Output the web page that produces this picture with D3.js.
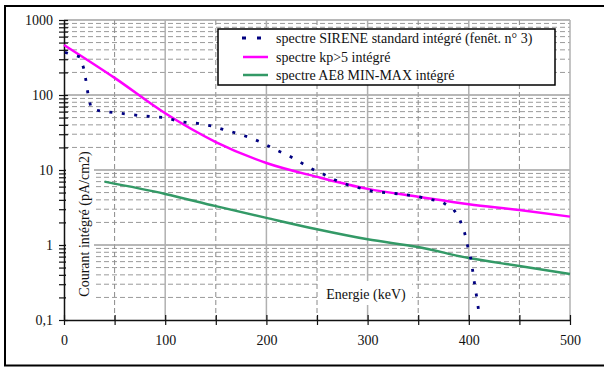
<!DOCTYPE html>
<html>
<head>
<meta charset="utf-8">
<script src="https://cdn.jsdelivr.net/npm/d3@7"></script>
<style>
  body { margin: 0; background: #fff; }
  svg { display: block; }
  text { font-family: "Liberation Serif", "Times New Roman", serif; fill: #111; }
</style>
</head>
<body>
<div id="chart"></div>
<script>
// Series: spectre kp>5 intégré
const kpEnergy = [0, 50, 100, 150, 200, 250, 300, 350, 400, 450, 500];
const kpValues = [464, 169, 57, 23.6, 12.4, 8.1, 5.6, 4.4, 3.5, 2.93, 2.39];

// Series: spectre AE8 MIN-MAX intégré
const ae8Energy = [40, 100, 150, 200, 250, 300, 350, 400, 450, 500];
const ae8Values = [7.0, 4.8, 3.3, 2.3, 1.62, 1.19, 0.94, 0.67, 0.525, 0.41];

// Series: spectre SIRENE standard intégré (dotted)
const sireneEnergy = [1, 16, 20, 22, 24, 27, 39, 52, 65, 78, 91, 100, 115, 132, 146, 157, 171, 184, 197,
  208, 221, 231, 244, 256, 268, 281, 306, 332, 347, 373, 385, 391, 396, 399, 402, 404, 406, 408, 410];
const sireneValues = [370, 321, 215, 146, 97, 65, 60, 58, 55, 52.5, 51, 50, 44, 41.8, 38.6, 34.9, 30.8, 27, 22.7,
  18.9, 15.8, 13.3, 10.5, 8.85, 7.36, 6.3, 5.14, 4.79, 4.5, 3.78, 2.99, 2.2, 1.43, 0.95, 0.66, 0.44, 0.284, 0.195, 0.125];

// Axis ticks
const xTicks = [0, 100, 200, 300, 400, 500];
const xMinorTicks = [50, 150, 250, 350, 450];
const yDecades = [0.1, 1, 10, 100, 1000];
const yTickLabels = ['0,1', '1', '10', '100', '1000'];

const seriesNames = [
  'spectre SIRENE standard intégré (fenêt. n° 3)',
  'spectre kp>5 intégré',
  'spectre AE8 MIN-MAX intégré'
];

const width = 604, height = 367;
const plotLeft = 64, plotRight = 570, plotTop = 20, plotBottom = 320;
const serif = '"Liberation Serif", "Times New Roman", serif';

const svg = d3.select('#chart').append('svg')
  .attr('width', width)
  .attr('height', height);

// Outer frame
svg.append('rect')
  .attr('x', 5).attr('y', 6)
  .attr('width', 640).attr('height', 359.5)
  .attr('fill', 'none')
  .attr('stroke', '#000')
  .attr('stroke-width', 2);

const x = d3.scaleLinear().domain([0, 500]).range([plotLeft, plotRight]);
const y = d3.scaleLog().domain([0.1, 1000]).range([plotBottom, plotTop]);

// all minor values 2..9 per decade
let yMinor = [];
yDecades.slice(0, -1).forEach(d => {
  for (let k = 2; k <= 9; k++) yMinor.push(d * k);
});

// Grid
const grid = svg.append('g');
grid.selectAll('.hmin').data(yMinor).enter().append('line')
  .attr('x1', plotLeft).attr('x2', plotRight)
  .attr('y1', d => y(d)).attr('y2', d => y(d))
  .attr('stroke', '#9a9a9a').attr('stroke-width', 1)
  .attr('stroke-dasharray', '5,3');
grid.selectAll('.vmin').data(xMinorTicks).enter().append('line')
  .attr('x1', d => x(d)).attr('x2', d => x(d))
  .attr('y1', plotTop).attr('y2', plotBottom)
  .attr('stroke', '#8a8a8a').attr('stroke-width', 1)
  .attr('stroke-dasharray', '5,3');
grid.selectAll('.hmaj').data(yDecades.slice(1)).enter().append('line')
  .attr('x1', plotLeft).attr('x2', plotRight)
  .attr('y1', d => y(d)).attr('y2', d => y(d))
  .attr('stroke', '#a0a0a0').attr('stroke-width', 1.5);
grid.selectAll('.vmaj').data(xTicks.slice(1)).enter().append('line')
  .attr('x1', d => x(d)).attr('x2', d => x(d))
  .attr('y1', plotTop).attr('y2', plotBottom)
  .attr('stroke', '#b0b0b0').attr('stroke-width', 1.5);

// Axes
const yAxis = svg.append('g')
  .attr('transform', 'translate(' + plotLeft + ',0)')
  .call(d3.axisLeft(y)
    .tickValues(yDecades.concat(yMinor))
    .tickSize(5)
    .tickSizeOuter(0)
    .tickPadding(6)
    .tickFormat(d => {
      const i = yDecades.indexOf(d);
      return i >= 0 ? yTickLabels[i] : '';
    }))
  .attr('font-family', serif)
  .attr('font-size', 14);
yAxis.selectAll('.tick line').attr('x1', 4).attr('stroke', '#111').attr('stroke-width', 1.2);
yAxis.select('.domain').attr('stroke', '#111').attr('stroke-width', 1.5);
yAxis.selectAll('text').attr('fill', '#111');

const xAxis = svg.append('g')
  .attr('transform', 'translate(0,' + plotBottom + ')')
  .call(d3.axisBottom(x)
    .tickValues(xTicks.concat(xMinorTicks))
    .tickSize(5)
    .tickSizeOuter(0)
    .tickPadding(10)
    .tickFormat(d => xTicks.indexOf(d) >= 0 ? d : ''))
  .attr('font-family', serif)
  .attr('font-size', 14);
xAxis.selectAll('.tick line').attr('y1', -5).attr('stroke', '#111').attr('stroke-width', 1.2);
xAxis.select('.domain').attr('stroke', '#111').attr('stroke-width', 1.5);
xAxis.selectAll('text').attr('fill', '#111');

// Axis titles on white boxes
svg.append('rect')
  .attr('x', 66).attr('y', 149).attr('width', 28).attr('height', 154)
  .attr('fill', '#fff');
svg.append('text')
  .attr('transform', 'translate(89,224) rotate(-90)')
  .attr('text-anchor', 'middle')
  .style('font-size', '14px')
  .text('Courant intégré (pA/cm2)');

svg.append('rect')
  .attr('x', 320).attr('y', 281).attr('width', 92).attr('height', 24)
  .attr('fill', '#fff');
svg.append('text')
  .attr('x', 366).attr('y', 299)
  .attr('text-anchor', 'middle')
  .style('font-size', '14px')
  .text('Energie (keV)');

// Curves
const line = d3.line()
  .x(d => x(d[0]))
  .y(d => y(d[1]))
  .curve(d3.curveMonotoneX);

svg.append('path')
  .datum(d3.zip(ae8Energy, ae8Values))
  .attr('d', line)
  .attr('fill', 'none')
  .attr('stroke', '#339966')
  .attr('stroke-width', 2.5);

svg.append('path')
  .datum(d3.zip(kpEnergy, kpValues))
  .attr('d', line)
  .attr('fill', 'none')
  .attr('stroke', '#ff00ff')
  .attr('stroke-width', 2.5);

svg.append('path')
  .datum(d3.zip(sireneEnergy, sireneValues))
  .attr('d', d3.line().x(d => x(d[0])).y(d => y(d[1])))
  .attr('fill', 'none')
  .attr('stroke', '#000080')
  .attr('stroke-width', 2.8)
  .attr('stroke-dasharray', '3,9.5');

// Legend
const legend = svg.append('g');
legend.append('rect')
  .attr('x', 218).attr('y', 29)
  .attr('width', 337).attr('height', 56)
  .attr('fill', '#fff')
  .attr('stroke', '#000')
  .attr('stroke-width', 1.5);

const rows = [38, 57, 75];
legend.append('line')
  .attr('x1', 242).attr('x2', 268)
  .attr('y1', rows[0]).attr('y2', rows[0])
  .attr('stroke', '#000080').attr('stroke-width', 3)
  .attr('stroke-dasharray', '4,11');
legend.append('line')
  .attr('x1', 243).attr('x2', 268)
  .attr('y1', rows[1]).attr('y2', rows[1])
  .attr('stroke', '#ff00ff').attr('stroke-width', 2.5);
legend.append('line')
  .attr('x1', 243).attr('x2', 268)
  .attr('y1', rows[2]).attr('y2', rows[2])
  .attr('stroke', '#339966').attr('stroke-width', 2.5);

legend.selectAll('.lt').data(seriesNames).enter().append('text')
  .attr('x', 276)
  .attr('y', (d, i) => rows[i] + 5)
  .style('font-size', '14px')
  .text(d => d);
</script>
</body>
</html>
